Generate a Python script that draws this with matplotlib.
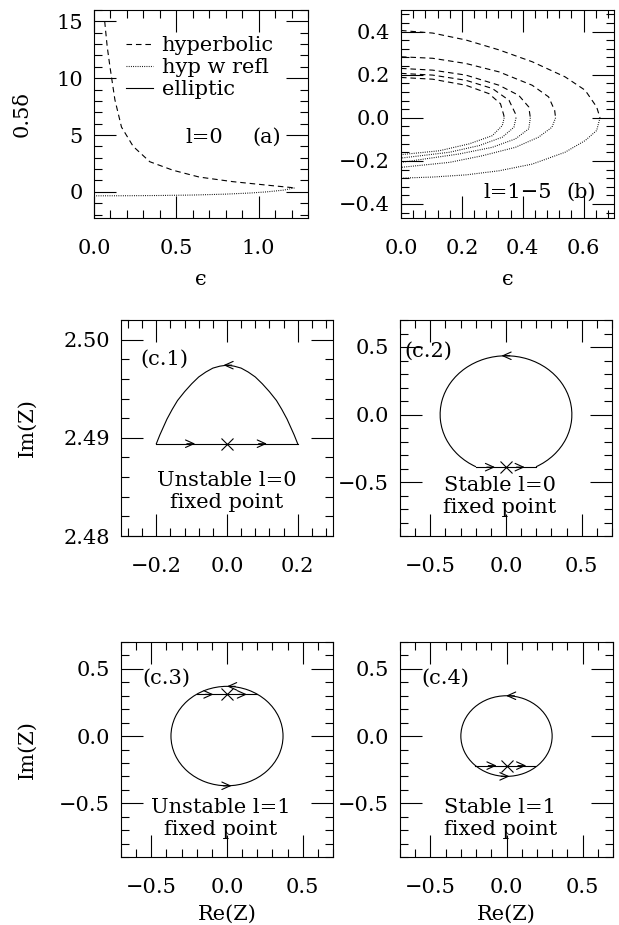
import numpy as np
import matplotlib.pyplot as plt
from matplotlib.patches import Arc
from matplotlib.lines import Line2D
from matplotlib.ticker import MultipleLocator, FuncFormatter

#(a) l=0 branch: eps vs 0.5*delta
a_hyp_eps = [0.065, 0.080, 0.097, 0.127, 0.167, 0.238, 0.339, 0.480, 0.640, 0.842, 1.044, 1.185, 1.220]
a_hyp_delta = [15.0, 12.8, 11.0, 8.1, 5.7, 4.0, 2.65, 1.9, 1.3, 0.9, 0.6, 0.4, 0.35]
a_refl_eps = [0.0, 0.2, 0.4, 0.6, 0.8, 0.95, 1.05, 1.15, 1.22]
a_refl_delta = [-0.35, -0.34, -0.32, -0.28, -0.2, -0.1, 0.0, 0.15, 0.35]

#(b) l=1..5: upper half hyperbolic, lower half hyp w refl
b_upper_eps = [
    [0.0, 0.104, 0.213, 0.322, 0.431, 0.539, 0.605, 0.643, 0.654],
    [0.0, 0.104, 0.213, 0.322, 0.431, 0.485, 0.505, 0.508],
    [0.0, 0.104, 0.213, 0.322, 0.387, 0.420, 0.425],
    [0.0, 0.104, 0.213, 0.300, 0.355, 0.376, 0.378],
    [0.0, 0.104, 0.213, 0.289, 0.327, 0.338, 0.339],
]
b_upper_delta = [
    [0.405, 0.393, 0.361, 0.315, 0.260, 0.190, 0.128, 0.050, 0.0],
    [0.283, 0.276, 0.252, 0.213, 0.151, 0.097, 0.034, 0.0],
    [0.229, 0.221, 0.198, 0.151, 0.104, 0.050, 0.0],
    [0.206, 0.198, 0.174, 0.136, 0.081, 0.019, 0.0],
    [0.187, 0.179, 0.151, 0.112, 0.065, 0.011, 0.0],
]
b_lower_eps = [
    [0.654, 0.643, 0.605, 0.539, 0.431, 0.322, 0.213, 0.104, 0.0],
    [0.508, 0.496, 0.452, 0.376, 0.268, 0.159, 0.0],
    [0.425, 0.420, 0.376, 0.300, 0.191, 0.0],
    [0.378, 0.371, 0.333, 0.257, 0.159, 0.0],
    [0.339, 0.333, 0.300, 0.224, 0.126, 0.0],
]
b_lower_delta = [
    [0.0, -0.059, -0.106, -0.160, -0.215, -0.246, -0.265, -0.275, -0.280],
    [0.0, -0.044, -0.090, -0.137, -0.176, -0.207, -0.230],
    [0.0, -0.051, -0.098, -0.137, -0.168, -0.207],
    [0.0, -0.044, -0.090, -0.129, -0.160, -0.187],
    [0.0, -0.036, -0.083, -0.121, -0.153, -0.171],
]

#(c.1) orbit around the unstable l=0 fixed point
c1_arch_re = [-0.200, -0.190, -0.180, -0.170, -0.155, -0.140, -0.120, -0.100, -0.080,
              -0.060, -0.040, -0.020, 0.000, 0.020, 0.040, 0.060, 0.080, 0.100,
              0.120, 0.140, 0.155, 0.170, 0.180, 0.190, 0.200]
c1_arch_im = [2.4894, 2.4903, 2.4911, 2.4919, 2.4929, 2.4938, 2.4947, 2.4955, 2.4962,
              2.4967, 2.4971, 2.4973, 2.4974, 2.4973, 2.4971, 2.4967, 2.4962, 2.4955,
              2.4947, 2.4938, 2.4929, 2.4919, 2.4911, 2.4903, 2.4894]
c1_chord_re = [-0.200, 0.200]
c1_chord_im = [2.4894, 2.4894]
c1_fixed = (0.0, 2.4894)
c1_arrow_re = [-0.09, 0.113, -0.01]
c1_arrow_im = [2.4894, 2.4894, 2.4974]
c1_arrow_dir = [1, 1, -1]

#(c.2)-(c.4) near-circular orbits: radius, chord and fixed point
c_radius = [0.435, 0.37, 0.30]
c_full_circle = [False, True, True]
c_chord_re = [[-0.20, 0.20], [-0.20, 0.20], [-0.206, 0.19]]
c_chord_im = [-0.39, 0.31, -0.22]
c_fixed_re = [0.0, 0.0, 0.0]
c_fixed_im = [-0.39, 0.31, -0.22]
c_arrow_re = [[-0.072, 0.124, -0.03],
              [-0.089, 0.132, 0.0, 0.03],
              [-0.065, 0.13, -0.003, 0.02]]
c_arrow_im = [[-0.39, -0.39, 0.435],
              [0.31, 0.31, 0.37, -0.37],
              [-0.22, -0.22, 0.30, -0.30]]
c_arrow_dir = [[1, 1, -1], [1, 1, -1, 1], [1, 1, -1, 1]]

W, H = 619, 925
LW = 0.8
DASH = (0, (5, 3.5))
DOT = (0, (0.8, 1.2))
EPS = '\u03f5'


def add_panel(fig, left, top, width, height):
    #pixel box -> figure fraction
    ax = fig.add_axes([left / W, 1 - (top + height) / H, width / W, height / H])
    for s in ax.spines.values():
        s.set_linewidth(LW)
    ax.tick_params(which='both', direction='in', top=True, right=True, width=LW)
    ax.tick_params(which='major', length=16)
    ax.tick_params(which='minor', length=5.5)
    ax.tick_params(axis='x', pad=15)
    ax.tick_params(axis='y', pad=8)
    return ax


def fmt(spec):
    #long minus sign on negative tick labels
    return FuncFormatter(lambda v, pos: (spec % v).replace('-', '\u2212'))


def set_ticks(ax, xmaj, xmin, ymaj, ymin, xfmt, yfmt):
    ax.xaxis.set_major_locator(MultipleLocator(xmaj))
    ax.xaxis.set_minor_locator(MultipleLocator(xmin))
    ax.yaxis.set_major_locator(MultipleLocator(ymaj))
    ax.yaxis.set_minor_locator(MultipleLocator(ymin))
    ax.xaxis.set_major_formatter(fmt(xfmt))
    ax.yaxis.set_major_formatter(fmt(yfmt))


def draw_arrows(ax, xs, ys, dirs):
    for x, y, d in zip(xs, ys, dirs):
        ax.annotate('', xy=(x, y), xytext=(-6 * d, 0), textcoords='offset points',
                    arrowprops=dict(arrowstyle='->,head_length=0.4,head_width=0.18',
                                    lw=LW, color='black', shrinkA=0, shrinkB=0))


def plot_a(ax):
    ax.plot(a_hyp_eps, a_hyp_delta, color='black', lw=LW, ls=DASH)
    ax.plot(a_refl_eps, a_refl_delta, color='black', lw=LW, ls=DOT)
    ax.set_xlim(0, 1.3)
    ax.set_ylim(-2.3, 16)
    set_ticks(ax, 0.5, 0.1, 5, 1, '%.1f', '%d')
    handles = [Line2D([], [], color='black', lw=LW, ls=DASH),
               Line2D([], [], color='black', lw=LW, ls=DOT),
               Line2D([], [], color='black', lw=LW)]
    ax.legend(handles, ['hyperbolic', 'hyp w refl', 'elliptic'], loc='upper left',
              bbox_to_anchor=(0.15, 0.875), frameon=False, borderaxespad=0, borderpad=0,
              handlelength=1.3, handletextpad=0.4, labelspacing=0.15)
    ax.text(0.555, 4.8, 'l=0', va='center')
    ax.text(0.96, 4.8, '(a)', va='center')
    ax.set_xlabel(EPS)
    ax.xaxis.set_label_coords(0.5, -0.25)
    ax.set_ylabel('0.5δ')
    ax.yaxis.set_label_coords(-0.29, 0.5)


def plot_b(ax):
    for ux, uy, lx, ly in zip(b_upper_eps, b_upper_delta, b_lower_eps, b_lower_delta):
        ax.plot(ux, uy, color='black', lw=LW, ls=DASH)
        ax.plot(lx, ly, color='black', lw=LW, ls=DOT)
    ax.set_xlim(0, 0.7)
    ax.set_ylim(-0.465, 0.5)
    set_ticks(ax, 0.2, 0.04, 0.2, 0.04, '%.1f', '%.1f')
    ax.text(0.27, -0.345, 'l=1\u22125', va='center')
    ax.text(0.545, -0.345, '(b)', va='center')
    ax.set_xlabel(EPS)
    ax.xaxis.set_label_coords(0.5, -0.25)


def plot_c1(ax):
    ax.plot(c1_arch_re, c1_arch_im, color='black', lw=LW)
    ax.plot(c1_chord_re, c1_chord_im, color='black', lw=LW)
    ax.plot(*c1_fixed, marker='x', ms=9, mew=LW, color='black')
    draw_arrows(ax, c1_arrow_re, c1_arrow_im, c1_arrow_dir)
    ax.set_xlim(-0.3, 0.3)
    ax.set_ylim(2.48, 2.502)
    set_ticks(ax, 0.2, 0.04, 0.01, 0.002, '%.1f', '%.2f')
    ax.text(-0.245, 2.498, '(c.1)', va='center')
    ax.text(0.0, 2.4845, 'Unstable l=0\nfixed point', ha='center', va='center',
            linespacing=1.2)
    ax.set_ylabel('Im(Z)')
    ax.yaxis.set_label_coords(-0.40, 0.5)


def plot_circle(ax, i, tag, caption, ylabel, xlabel):
    r = c_radius[i]
    x0, x1 = c_chord_re[i]
    yc = c_chord_im[i]
    if c_full_circle[i]:
        t1, t2 = 0, 360
    else:
        t1 = np.degrees(np.arctan2(yc, x1))
        t2 = np.degrees(np.arctan2(yc, x0))
    ax.add_patch(Arc((0, 0), 2 * r, 2 * r, theta1=t1, theta2=t2, color='black', lw=LW))
    ax.plot([x0, x1], [yc, yc], color='black', lw=LW)
    ax.plot(c_fixed_re[i], c_fixed_im[i], marker='x', ms=9, mew=LW, color='black')
    draw_arrows(ax, c_arrow_re[i], c_arrow_im[i], c_arrow_dir[i])
    ax.set_xlim(-0.7, 0.7)
    ax.set_ylim(-0.9, 0.7)
    set_ticks(ax, 0.5, 0.1, 0.5, 0.1, '%.1f', '%.1f')
    ax.text(*tag)
    ax.text(-0.04, -0.61, caption, ha='center', va='center', linespacing=1.2)
    if ylabel:
        ax.set_ylabel('Im(Z)')
        ax.yaxis.set_label_coords(-0.40, 0.5)
    if xlabel:
        ax.set_xlabel('Re(Z)')
        ax.xaxis.set_label_coords(0.5, -0.22)


def main():
    plt.rcParams['font.family'] = 'DejaVu Serif'
    plt.rcParams['font.size'] = 15

    fig = plt.figure(figsize=(W / 100, H / 100), dpi=100)

    plot_a(add_panel(fig, 94, 10, 214, 208))
    plot_b(add_panel(fig, 401, 10, 213, 208))
    plot_c1(add_panel(fig, 121, 320, 212, 216))
    plot_circle(add_panel(fig, 400, 320, 212, 216), 0, (-0.67, 0.43, '(c.2)'),
                'Stable l=0\nfixed point', False, False)
    plot_circle(add_panel(fig, 121, 642, 212, 215), 1, (-0.56, 0.39, '(c.3)'),
                'Unstable l=1\nfixed point', True, True)
    plot_circle(add_panel(fig, 400, 642, 213, 215), 2, (-0.56, 0.39, '(c.4)'),
                'Stable l=1\nfixed point', False, True)

    fig.savefig('out.png', dpi=100)


main()
